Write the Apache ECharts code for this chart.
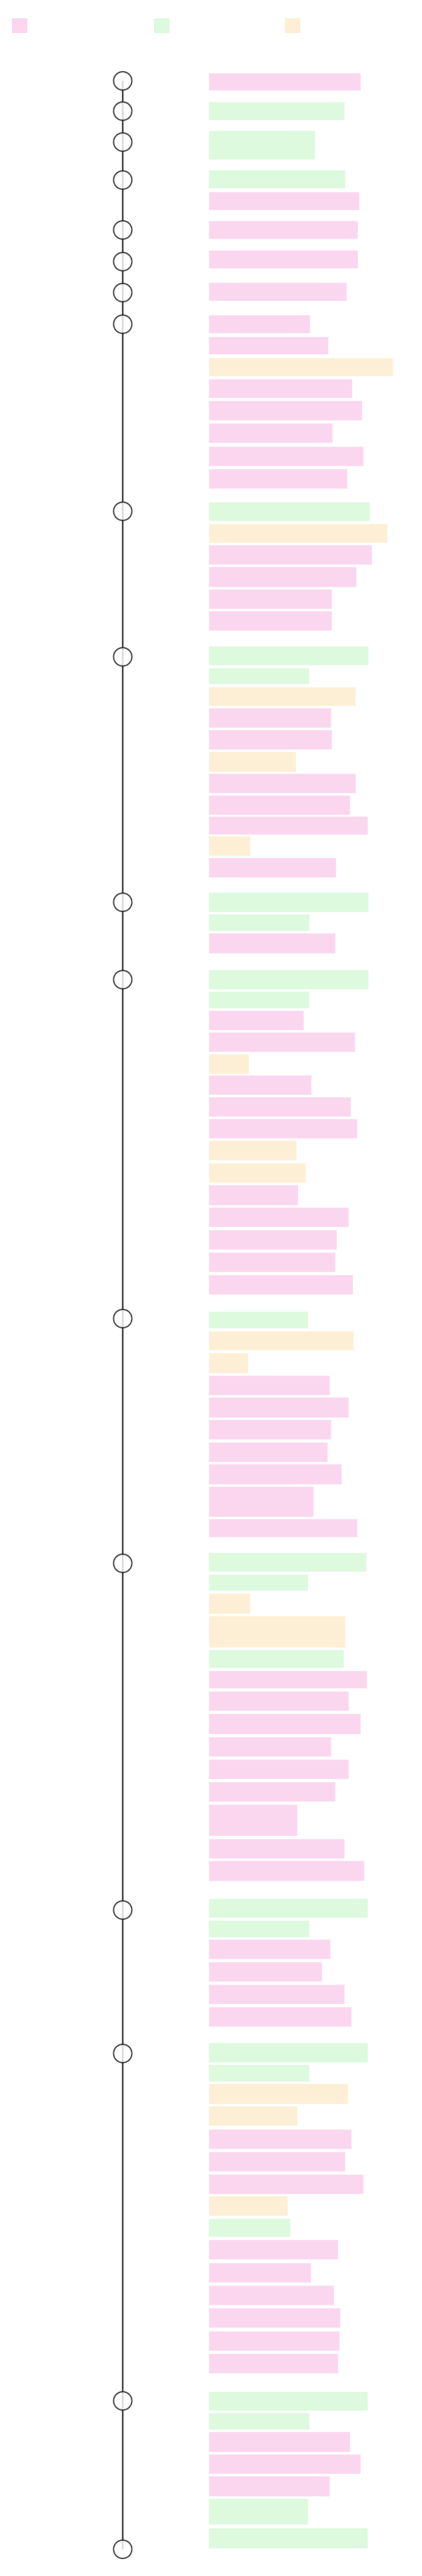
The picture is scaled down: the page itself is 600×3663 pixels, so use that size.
<!DOCTYPE html>
<html>
<head>
<meta charset="utf-8">
<script src="https://cdn.jsdelivr.net/npm/echarts@6/dist/echarts.min.js"></script>
<style>
  html, body { margin: 0; padding: 0; background: #fff; }
  #chart { width: 600px; height: 3663px; }
</style>
</head>
<body>
<div id="chart"></div>
<script>
  // timeline nodes (vertical position along the track)
  var nodeY = [115, 158, 202, 256, 327, 372, 416, 461, 727, 934, 1283, 1393,
               1875, 2223, 2716, 2920, 3414, 3625];

  // entries: top, bottom, length, kind (0 pink, 1 green, 2 yellow)
  var barTop = [104, 145, 186, 242, 273, 314, 356, 402, 448, 479, 509, 539, 570, 602, 635, 667,
    714, 745, 775, 806, 838, 869,
    919, 950, 977, 1007, 1038, 1069, 1100, 1131, 1161, 1189, 1220,
    1269, 1300, 1327,
    1379, 1410, 1437, 1468, 1499, 1529, 1560, 1591, 1622, 1654, 1685, 1717, 1749, 1781, 1813,
    1865, 1893, 1924, 1956, 1987, 2019, 2051, 2082, 2114, 2160,
    2208, 2239, 2266, 2298, 2346, 2376, 2405, 2437, 2470, 2502, 2534, 2566, 2615, 2646,
    2700, 2731, 2758, 2790, 2822, 2854,
    2905, 2936, 2963, 2995, 3028, 3060, 3092, 3123, 3155, 3185, 3218, 3250, 3282, 3315, 3347,
    3401, 3431, 3458, 3490, 3521, 3553, 3595];
  var barBottom = [129, 171, 227, 268, 299, 340, 382, 428, 474, 504, 535, 566, 598, 630, 663, 695,
    741, 772, 803, 835, 866, 897,
    946, 973, 1004, 1035, 1066, 1098, 1128, 1159, 1187, 1217, 1248,
    1297, 1324, 1356,
    1407, 1434, 1465, 1496, 1527, 1557, 1588, 1619, 1650, 1682, 1714, 1745, 1777, 1809, 1841,
    1889, 1920, 1953, 1984, 2016, 2047, 2079, 2111, 2157, 2186,
    2235, 2262, 2295, 2343, 2372, 2401, 2433, 2466, 2498, 2530, 2562, 2611, 2643, 2675,
    2727, 2755, 2786, 2818, 2850, 2882,
    2933, 2960, 2992, 3023, 3056, 3088, 3120, 3151, 3181, 3213, 3246, 3278, 3310, 3343, 3375,
    3428, 3455, 3487, 3518, 3550, 3590, 3624];
  var barEnd = [513, 490, 448, 491, 511, 509, 509, 493, 441, 467, 559, 501, 515, 473, 517, 494,
    526, 551, 529, 507, 472, 472,
    524, 440, 506, 471, 472, 421, 506, 498, 523, 356, 478,
    524, 440, 477,
    524, 440, 432, 505, 354, 443, 499, 508, 422, 435, 424, 496, 479, 477, 502,
    438, 503, 353, 469, 496, 471, 466, 486, 446, 508,
    521, 438, 356, 491, 489, 522, 496, 513, 471, 496, 477, 423, 490, 518,
    523, 440, 470, 458, 490, 500,
    523, 440, 495, 423, 500, 491, 517, 409, 413, 481, 442, 475, 484, 483, 481,
    523, 440, 498, 513, 469, 438, 523];
  var barKind = [0, 1, 1, 1, 0, 0, 0, 0, 0, 0, 2, 0, 0, 0, 0, 0,
    1, 2, 0, 0, 0, 0,
    1, 1, 2, 0, 0, 2, 0, 0, 0, 2, 0,
    1, 1, 0,
    1, 1, 0, 0, 2, 0, 0, 0, 2, 2, 0, 0, 0, 0, 0,
    1, 2, 2, 0, 0, 0, 0, 0, 0, 0,
    1, 1, 2, 2, 1, 0, 0, 0, 0, 0, 0, 0, 0, 0,
    1, 1, 0, 0, 0, 0,
    1, 1, 2, 2, 0, 0, 0, 2, 1, 0, 0, 0, 0, 0, 0,
    1, 1, 0, 0, 0, 1, 1];

  var kindNames = ["pink", "green", "yellow"];
  var kindColors = ["#fad7ef", "#ddf9de", "#fdefd5"];
  var barStart = 297;
  var trackX = 174.5;

  function rectItem(params, api) {
    var p0 = api.coord([barStart, api.value(1)]);
    var p1 = api.coord([api.value(3), api.value(2)]);
    return {
      type: "rect",
      shape: { x: p0[0], y: p0[1], width: p1[0] - p0[0], height: p1[1] - p0[1] },
      style: { fill: kindColors[api.value(0)], stroke: "#fff", lineWidth: 0.5 }
    };
  }

  var series = kindNames.map(function (name, k) {
    var data = [];
    barTop.forEach(function (t, i) {
      if (barKind[i] === k) data.push([k, t, barBottom[i], barEnd[i]]);
    });
    return {
      name: name, type: "custom", renderItem: rectItem, data: data,
      itemStyle: { color: kindColors[k] }, silent: true
    };
  });

  var track = nodeY.map(function (y) { return [trackX, y]; });
  series.push({
    type: "line", data: track, symbol: "none", silent: true,
    lineStyle: { color: "#222", width: 2 }, z: 1
  });
  series.push({
    type: "scatter", data: track, symbol: "circle", symbolSize: 26, silent: true,
    itemStyle: { color: "#fff", borderColor: "#222", borderWidth: 2 }, z: 3
  });

  var legendLeft = [12, 214, 400];
  var legends = kindNames.map(function (name, k) {
    return {
      data: [name], left: legendLeft[k], top: 21, itemWidth: 22, itemHeight: 21,
      icon: "rect", formatter: function () { return ""; }, selectedMode: false
    };
  });

  var chart = echarts.init(document.getElementById("chart"), null, { renderer: "canvas" });
  chart.setOption({
    animation: false,
    legend: legends,
    grid: { left: 0, right: 0, top: 0, bottom: 0 },
    xAxis: { type: "value", min: 0, max: 600, show: false },
    yAxis: { type: "value", min: 0, max: 3663, inverse: true, show: false },
    series: series
  });
</script>
</body>
</html>
